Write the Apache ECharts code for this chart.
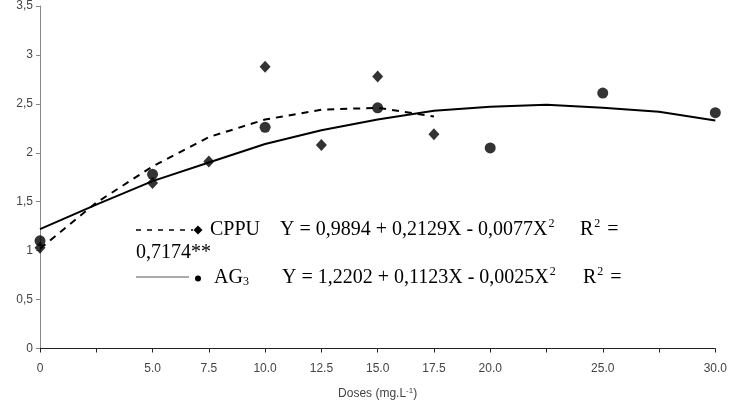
<!DOCTYPE html>
<html>
<head>
<meta charset="utf-8">
<script src="https://cdn.jsdelivr.net/npm/echarts@6/dist/echarts.min.js"></script>
<style>html,body{margin:0;padding:0;background:#fff;}#c{width:730px;height:405px;}</style>
</head>
<body>
<div id="c"></div>
<script>
// Dose categories (x axis, evenly spaced like the original category chart)
const categories = ['0', '', '5.0', '7.5', '10.0', '12.5', '15.0', '17.5', '20.0', '', '25.0', '', '30.0'];
// Observed values
const cppuObs = [1.03, null, 1.69, 1.91, 2.88, 2.08, 2.78, 2.19, null, null, null, null, null];
const ag3Obs  = [1.10, null, 1.78, null, 2.26, null, 2.46, null, 2.05, null, 2.61, null, 2.41];
// Fitted curves
const cppuFit = [1.02, 1.49, 1.86, 2.16, 2.34, 2.44, 2.46, 2.37, null, null, null, null, null];
const ag3Fit  = [1.22, 1.47, 1.71, 1.90, 2.09, 2.23, 2.34, 2.43, 2.47, 2.49, 2.46, 2.42, 2.33];
// Y ticks
const yMin = 0, yMax = 3.5, yStep = 0.5;

const dash = v => (v === null ? '-' : v);
const chart = echarts.init(document.getElementById('c'), null, {renderer: 'canvas'});
const serif = '"Liberation Serif", "Times New Roman", serif';
const sans = '"Liberation Sans", Arial, sans-serif';

chart.setOption({
  animation: false,
  backgroundColor: '#fff',
  grid: {left: 40, right: 13, top: 2, bottom: 55, containLabel: false},
  xAxis: {
    type: 'category',
    data: categories,
    boundaryGap: false,
    axisLine: {lineStyle: {color: '#222', width: 1}},
    axisTick: {show: true, length: 4, interval: 0, lineStyle: {color: '#222'}},
    axisLabel: {interval: 0, margin: 14, color: '#444', fontSize: 12, fontFamily: sans},
    splitLine: {show: false},
    name: '{a|Doses (mg.L}{s|-1}{a|)}',
    nameLocation: 'middle',
    nameGap: 38,
    nameTextStyle: {
      rich: {
        a: {fontSize: 12, color: '#444', fontFamily: sans},
        s: {fontSize: 8, color: '#444', fontFamily: sans, verticalAlign: 'top', padding: [0, 0, 7, 0]}
      }
    }
  },
  yAxis: {
    type: 'value',
    min: yMin, max: yMax, interval: yStep,
    axisLine: {show: true, lineStyle: {color: '#888', width: 1}},
    axisTick: {show: true, length: 4, lineStyle: {color: '#888'}},
    axisLabel: {margin: 7, color: '#444', fontSize: 12, fontFamily: sans,
      formatter: v => String(v).replace('.', ',')},
    splitLine: {show: false}
  },
  series: [
    {
      name: 'CPPU fit', type: 'line', data: cppuFit.map(dash), showSymbol: false, symbol: 'none',
      lineStyle: {color: '#000', width: 2, type: [7, 6]}, z: 2, silent: true
    },
    {
      name: 'AG3 fit', type: 'line', data: ag3Fit.map(dash), showSymbol: false, symbol: 'none',
      lineStyle: {color: '#000', width: 2}, z: 2, silent: true
    },
    {
      name: 'CPPU', type: 'scatter', data: cppuObs.map(dash), symbol: 'diamond', symbolSize: [11, 12],
      itemStyle: {color: '#000'}, z: 3
    },
    {
      name: 'AG3', type: 'scatter', data: ag3Obs.map(dash), symbol: 'circle', symbolSize: 11,
      itemStyle: {color: '#000'}, z: 3
    }
  ],
  graphic: [
    {type: 'line', shape: {x1: 136, y1: 230, x2: 193, y2: 230}, style: {stroke: '#000', lineWidth: 1.5, lineDash: [5, 6]}},
    {type: 'polygon', shape: {points: [[198, 225.5], [202.5, 230], [198, 234.5], [193.5, 230]]}, style: {fill: '#000'}},
    {type: 'line', shape: {x1: 136, y1: 277, x2: 189, y2: 277}, style: {stroke: '#aaa', lineWidth: 2}},
    {type: 'circle', shape: {cx: 198, cy: 278.5, r: 3}, style: {fill: '#000'}},
    {type: 'text', x: 210, y: 229.5, style: {text: 'CPPU', font: '20px ' + serif, fill: '#000', verticalAlign: 'middle'}},
    {type: 'text', x: 280, y: 229.5, style: {text: 'Y = 0,9894 + 0,2129X - 0,0077X{s|2}', fill: '#000', verticalAlign: 'middle',
      fontSize: 20, fontFamily: serif,
      rich: {s: {fontSize: 12, fontFamily: serif, fill: '#000', verticalAlign: 'top', padding: [0, 0, 12, 1]}}}},
    {type: 'text', x: 580, y: 229.5, style: {text: 'R{s|2} =', fill: '#000', verticalAlign: 'middle',
      fontSize: 20, fontFamily: serif,
      rich: {s: {fontSize: 12, fontFamily: serif, fill: '#000', verticalAlign: 'top', padding: [0, 2, 12, 1]}}}},
    {type: 'text', x: 136, y: 252.5, style: {text: '0,7174**', font: '20px ' + serif, fill: '#000', verticalAlign: 'middle'}},
    {type: 'text', x: 214, y: 278, style: {text: 'AG{b|3}', fill: '#000', verticalAlign: 'middle',
      fontSize: 20, fontFamily: serif,
      rich: {b: {fontSize: 12, fontFamily: serif, fill: '#000', verticalAlign: 'bottom', padding: [6, 0, 0, 0]}}}},
    {type: 'text', x: 282, y: 278, style: {text: 'Y = 1,2202 + 0,1123X - 0,0025X{s|2}', fill: '#000', verticalAlign: 'middle',
      fontSize: 20, fontFamily: serif,
      rich: {s: {fontSize: 12, fontFamily: serif, fill: '#000', verticalAlign: 'top', padding: [0, 0, 12, 1]}}}},
    {type: 'text', x: 583, y: 278, style: {text: 'R{s|2} =', fill: '#000', verticalAlign: 'middle',
      fontSize: 20, fontFamily: serif,
      rich: {s: {fontSize: 12, fontFamily: serif, fill: '#000', verticalAlign: 'top', padding: [0, 2, 12, 1]}}}}
  ]
});
</script>
</body>
</html>
